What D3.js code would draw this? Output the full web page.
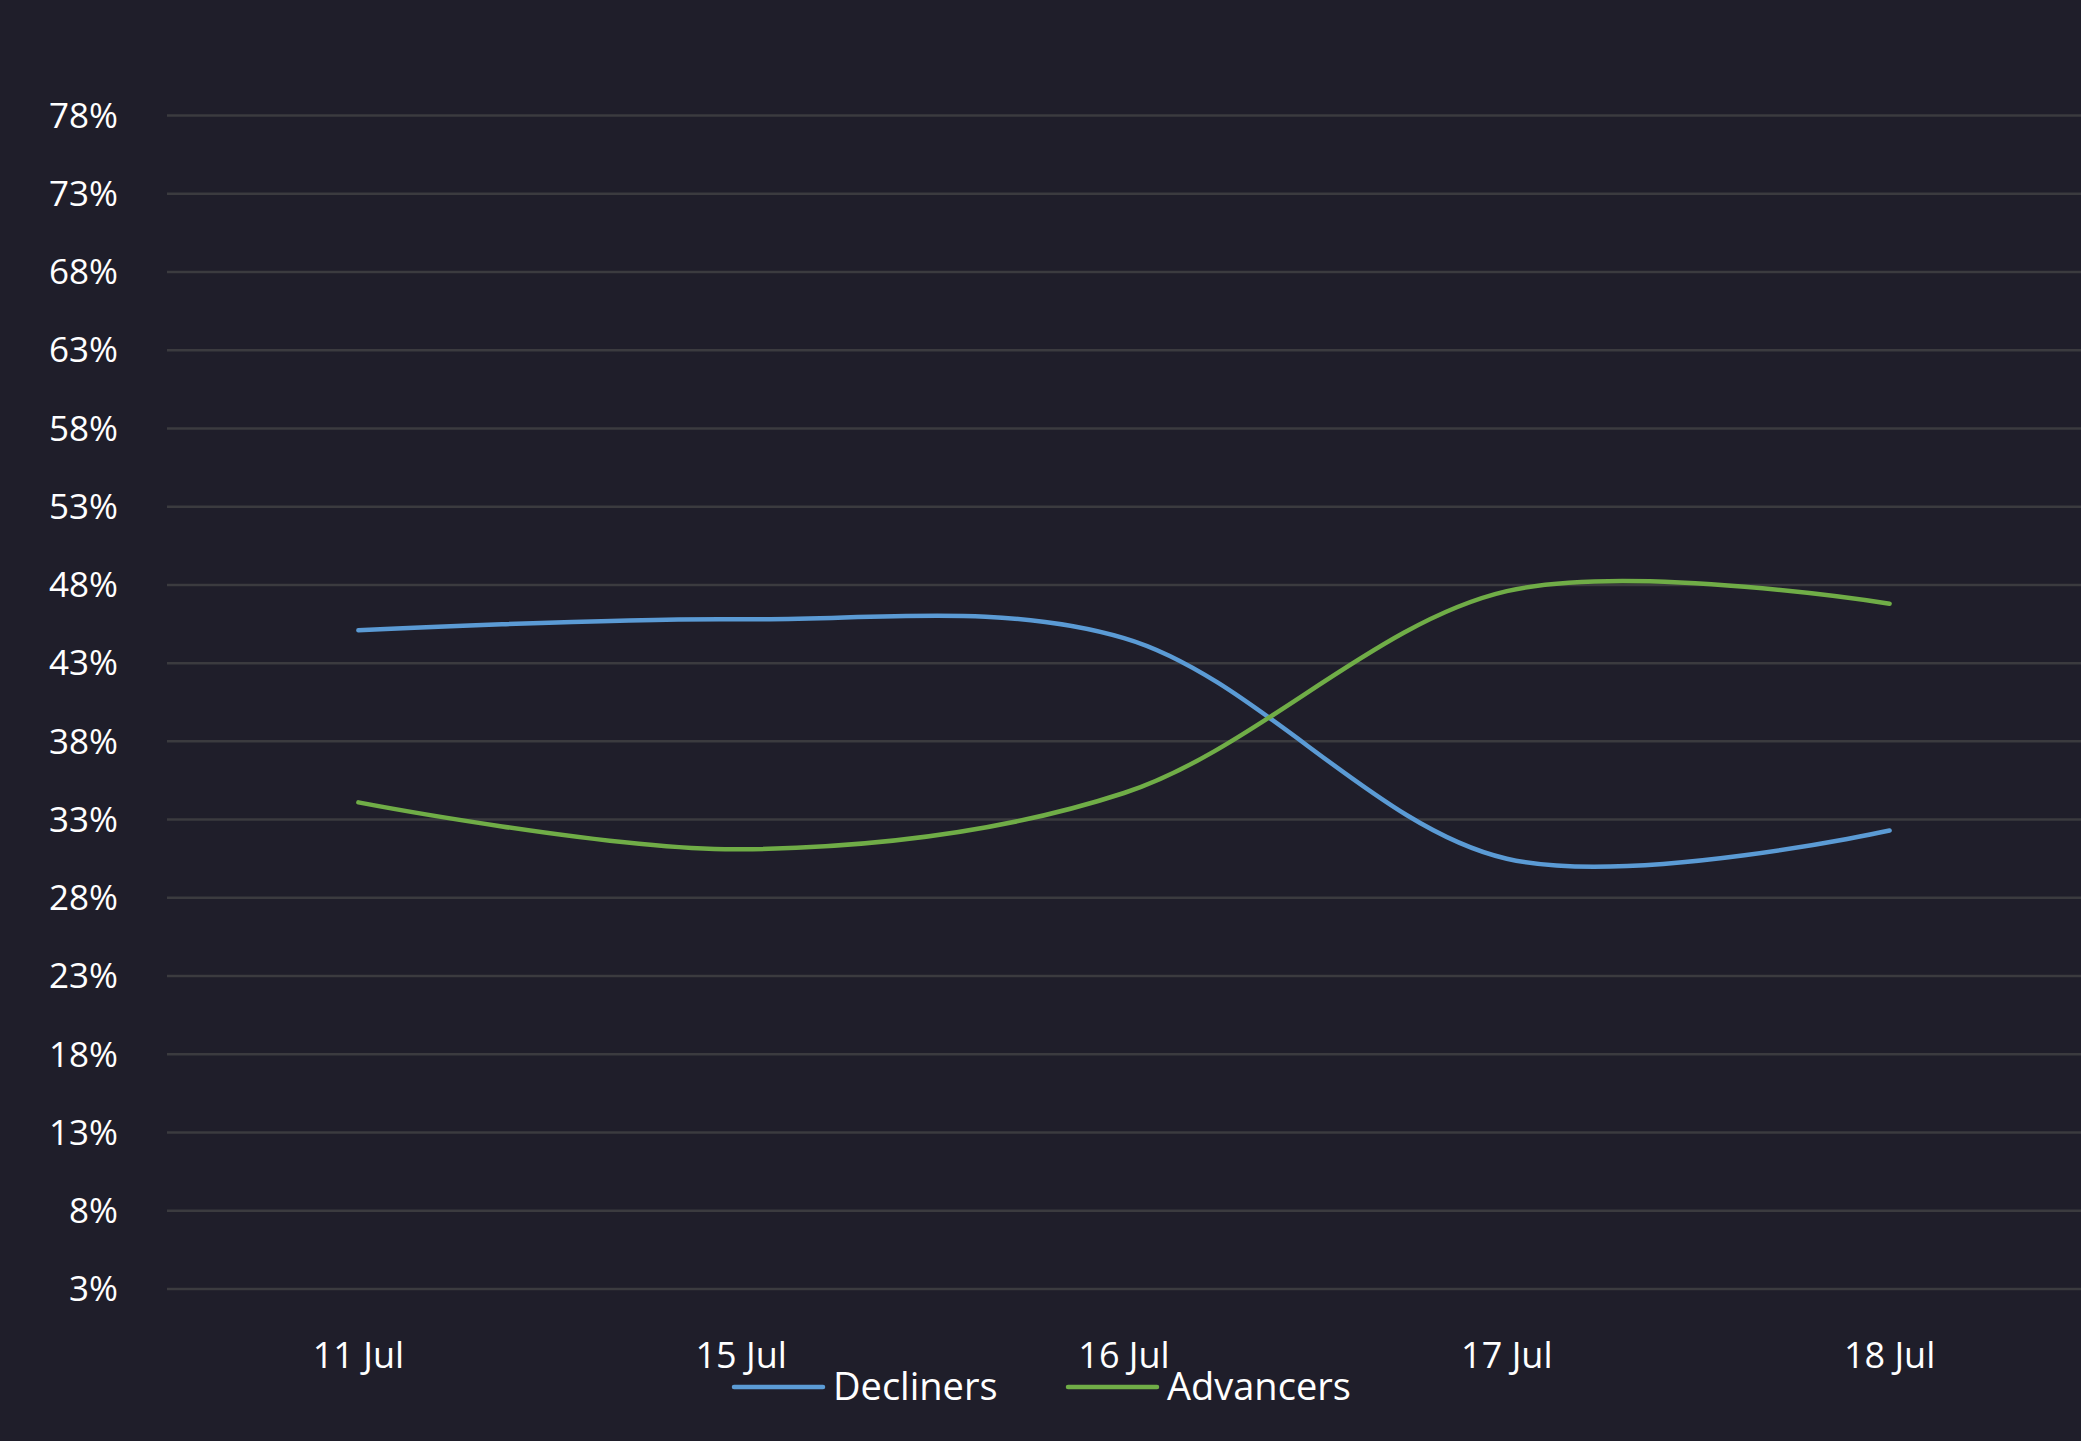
<!DOCTYPE html>
<html><head><meta charset="utf-8">
<script src="https://cdn.jsdelivr.net/npm/d3@7"></script>
<style>body{margin:0;background:#1f1e2a;}svg{display:block;}</style>
</head><body><svg id="c" width="2081" height="1441"></svg>
<script>
const categories = ["11 Jul","15 Jul","16 Jul","17 Jul","18 Jul"];
const decliners = [45.1, 45.8, 44.6, 30.5, 32.3];
const advancers = [34.1, 31.1, 34.7, 47.6, 46.8];
const yTicks = [3,8,13,18,23,28,33,38,43,48,53,58,63,68,73,78];
const seriesNames = ["Decliners","Advancers"];
const colors = ["#5b9bd5","#70ad47"];

const svg = d3.select("#c");
svg.append("rect").attr("width",2081).attr("height",1441).attr("fill","#1f1e2a");
const x = d3.scalePoint().domain(categories).range([167,2081]).padding(0.5);
const y = d3.scaleLinear().domain([3,78]).range([1289,115.5]);
const font = "'Open Sans', sans-serif";

const g = svg.append("g");
yTicks.forEach(t=>{
  g.append("line").attr("x1",167).attr("x2",2081).attr("y1",y(t)).attr("y2",y(t))
   .attr("stroke","#3b3b3f").attr("stroke-width",2.5);
  g.append("text").attr("x",118).attr("y",y(t)).attr("dy","0.35em").attr("text-anchor","end")
   .attr("fill","#ffffff").attr("font-family",font).attr("font-size",35).text(t+"%");
});
categories.forEach(c=>{
  g.append("text").attr("x",x(c)).attr("y",1355).attr("dy","0.35em").attr("text-anchor","middle")
   .attr("fill","#ffffff").attr("font-family",font).attr("font-size",36).text(c);
});
const line = d3.line().x((d,i)=>x(categories[i])).y(d=>y(d)).curve(d3.curveCatmullRom.alpha(0.5));
[decliners,advancers].forEach((s,i)=>{
  g.append("path").attr("d",line(s)).attr("fill","none").attr("stroke",colors[i])
   .attr("stroke-width",4.5).attr("stroke-linecap","round");
});
const lx=[734,1068];
seriesNames.forEach((n,i)=>{
  g.append("line").attr("x1",lx[i]).attr("x2",lx[i]+89).attr("y1",1387).attr("y2",1387)
   .attr("stroke",colors[i]).attr("stroke-width",4.5).attr("stroke-linecap","round");
  g.append("text").attr("x",lx[i]+99).attr("y",1387).attr("dy","0.35em")
   .attr("fill","#ffffff").attr("font-family",font).attr("font-size",38).text(n);
});
</script></body></html>
